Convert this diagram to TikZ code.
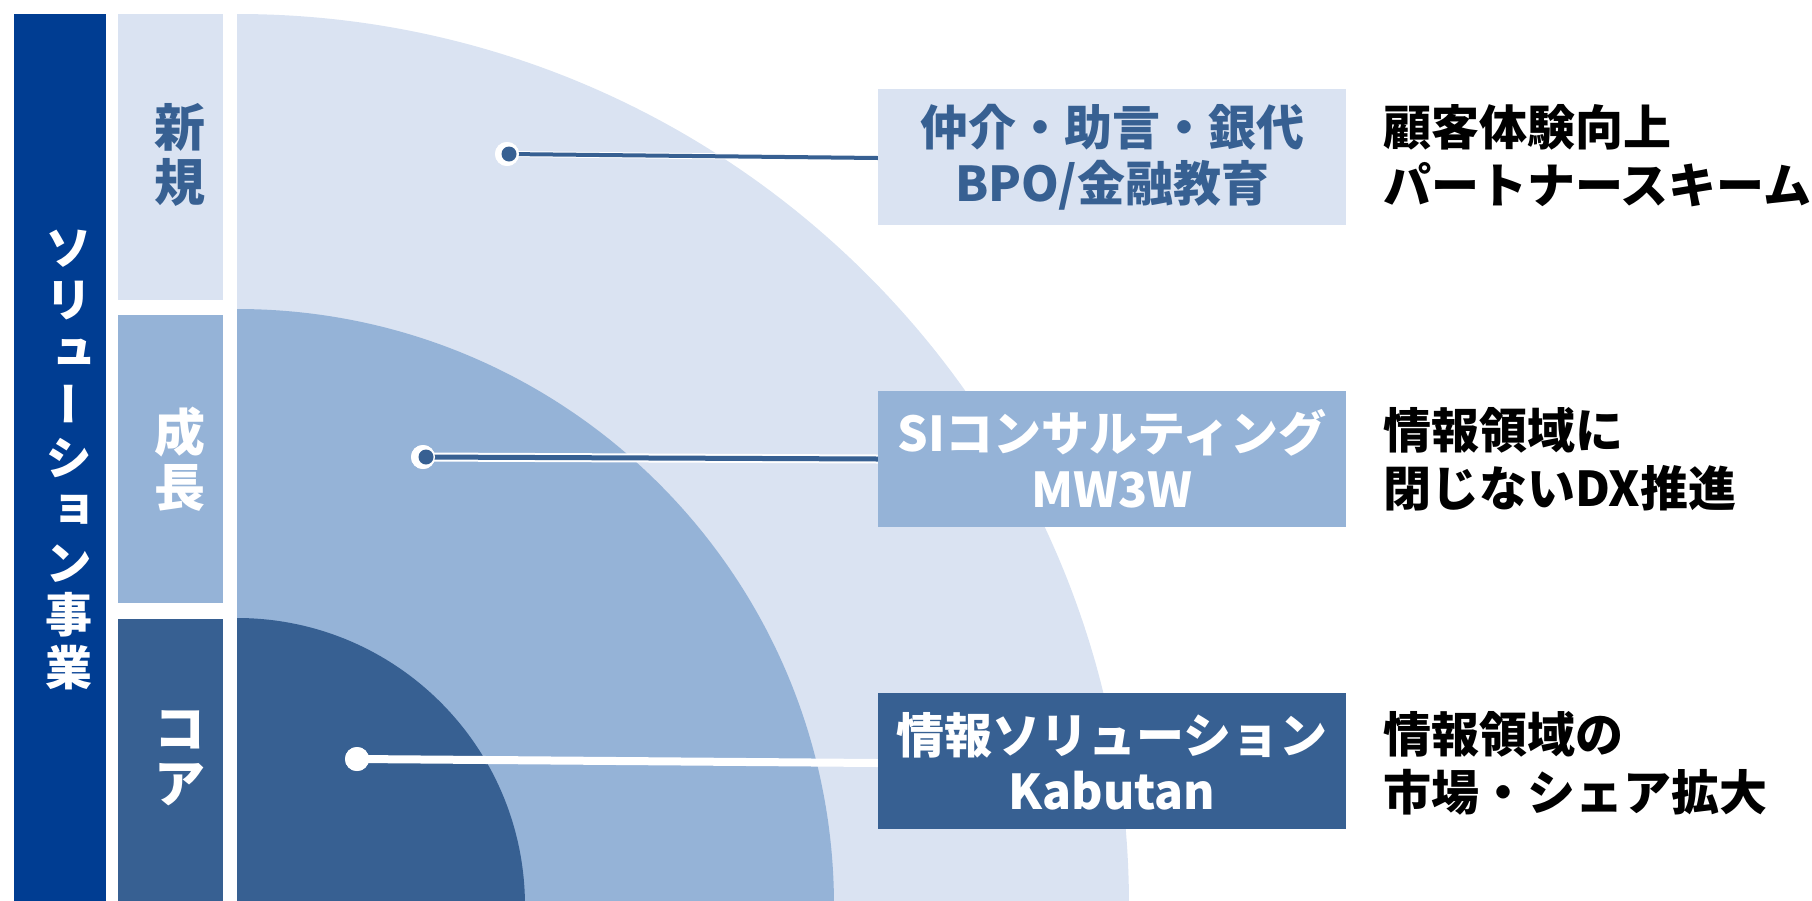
\documentclass[tikz,border=0pt]{standalone}
\usepackage{fontspec}
\setmainfont{Noto Sans CJK JP}
\newfontfamily\vjp{Noto Sans CJK JP}[RawFeature=+vert]
\definecolor{barblue}{HTML}{003D92}
\definecolor{lightb}{HTML}{DAE3F2}
\definecolor{midb}{HTML}{95B3D7}
\definecolor{darkb}{HTML}{376092}
\tikzset{
  catbox/.style={rectangle, inner sep=0pt, minimum width=105pt, anchor=north west},
  cattext/.style={inner sep=0pt, font=\bfseries\fontsize{51}{55}\selectfont, align=center},
  labbox/.style={rectangle, inner sep=0pt, minimum width=468pt, minimum height=136pt, font=\bfseries\fontsize{48}{56}\selectfont, align=center},
  sidetext/.style={anchor=west, inner sep=0pt, align=left, font=\bfseries\fontsize{48}{58}\selectfont, text=black},
  ring/.style={circle, fill=white, inner sep=0pt, minimum size=24pt},
  core/.style={circle, fill=darkb, inner sep=0pt, minimum size=15pt},
}
\begin{document}
\begin{tikzpicture}[x=1pt,y=-1pt]
\useasboundingbox (0,0) rectangle (1812,900);
\begin{scope}
\clip (0,0) rectangle (1812,900);
% quarter discs
\fill[lightb] (237,906) -- ++(892,0) arc[start angle=0, end angle=-90, radius=892] -- cycle;
\fill[midb] (237,906) -- ++(597,0) arc[start angle=0, end angle=-90, radius=597] -- cycle;
\fill[darkb] (237,906) -- ++(288,0) arc[start angle=0, end angle=-90, radius=288] -- cycle;
% left bar
\node[rectangle, fill=barblue, inner sep=0pt, minimum width=92pt, minimum height=900pt, anchor=north west] (bar) at (14,14) {};
% category boxes
\node[catbox, fill=lightb, minimum height=286pt] (k1) at (118,14) {};
\node[catbox, fill=midb, minimum height=288pt] (k2) at (118,315) {};
\node[catbox, fill=darkb, minimum height=300pt] (k3) at (118,619) {};
\end{scope}
\node[cattext, text=darkb] (t1) at (180,155) {新\\規};
\node[cattext, text=white] (t2) at (180,459) {成\\長};
\node[cattext, text=white] (t3) at (180,758) {コ\\ア};
% vertical title
\node[inner sep=0pt, align=center, text=white, font=\vjp\bfseries\fontsize{47}{52.5}\selectfont] (title) at (69,460) {ソ\\リ\\ュ\\ー\\シ\\ョ\\ン\\事\\業};
% label boxes
\node[labbox, fill=lightb, text=darkb] (b1) at (1112,157) {仲介・助言・銀代\\BPO/金融教育};
\node[labbox, fill=midb, text=white] (b2) at (1112,459) {SIコンサルティング\\MW3W};
\node[labbox, fill=darkb, text=white] (b3) at (1112,761) {情報ソリューション\\Kabutan};
% side texts
\node[sidetext] (s1) at (1383,156) {顧客体験向上\\パートナースキーム};
\node[sidetext] (s2) at (1383,459) {情報領域に\\閉じないDX推進};
\node[sidetext] (s3) at (1383,763) {情報領域の\\市場・シェア拡大};
% dots
\node[ring] (r1) at (507,154) {};
\node[ring] (r2) at (423,457) {};
\node[ring] (r3) at (357,759) {};
\coordinate (e1) at ([yshift=-1pt]b1.west);
\coordinate (e2) at (b2.west);
\coordinate (e3) at ([yshift=-2pt]b3.west);
% connectors
\draw[white, line width=6pt] (r1.center) -- (e1);
\draw[darkb, line width=4pt] (r1.center) -- (e1);
\draw[white, line width=9pt] (r2.center) -- (e2);
\draw[darkb, line width=5pt] (r2.center) -- (e2);
\draw[white, line width=8pt] (r3.center) -- (e3);
% dots on top
\node[ring] at (r1) {};
\node[core] (c1) at ([xshift=2pt]r1.center) {};
\node[ring] at (r2) {};
\node[core] (c2) at ([xshift=3pt]r2.center) {};
\node[ring] at (r3) {};
\end{tikzpicture}
\end{document}
